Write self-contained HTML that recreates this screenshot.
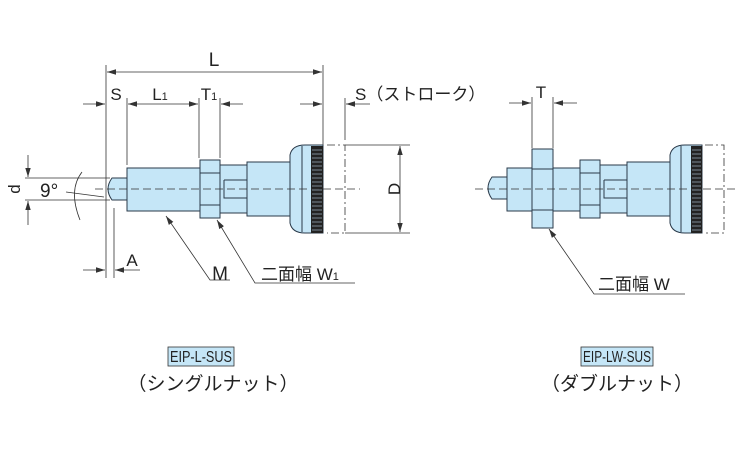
<!DOCTYPE html>
<html><head><meta charset="utf-8"><style>
body{margin:0;background:#fff}
svg{display:block}
text{font-family:"Liberation Sans","Noto Sans CJK JP",sans-serif;fill:#222;font-size:17px}
.b{font-size:19px}
.s{font-size:11px}
.m{font-size:16px}
</style></head><body>
<svg width="750" height="450" viewBox="0 0 750 450" xmlns="http://www.w3.org/2000/svg">
<defs>
<marker id="a" viewBox="0 0 10 10" refX="10" refY="5" markerWidth="9" markerHeight="9" markerUnits="userSpaceOnUse" orient="auto-start-reverse"><path d="M0,2 L10,5 L0,8 z" fill="#333"/></marker>
</defs>
<g stroke="#333" stroke-width="0.8" fill="none">
<line x1="106" y1="65" x2="106" y2="278"/>
<line x1="323" y1="65" x2="323" y2="145"/>
<line x1="107" y1="72" x2="322" y2="72" marker-start="url(#a)" marker-end="url(#a)"/>
<line x1="83" y1="104" x2="105" y2="104" marker-end="url(#a)"/>
<line x1="127" y1="98" x2="127" y2="165"/>
<line x1="128" y1="104" x2="198" y2="104" marker-start="url(#a)" marker-end="url(#a)"/>
<line x1="199" y1="98" x2="199" y2="158"/>
<line x1="220" y1="98" x2="220" y2="158"/>
<line x1="243" y1="104" x2="221" y2="104" marker-end="url(#a)"/>
<line x1="300" y1="104" x2="322" y2="104" marker-end="url(#a)"/>
<line x1="345" y1="98" x2="345" y2="140"/>
<line x1="370" y1="104" x2="346" y2="104" marker-end="url(#a)"/>
<line x1="345" y1="145" x2="410" y2="145"/>
<line x1="345" y1="233" x2="410" y2="233"/>
<line x1="400" y1="146" x2="400" y2="232" marker-start="url(#a)" marker-end="url(#a)"/>
<line x1="25" y1="178" x2="110" y2="178"/>
<line x1="25" y1="200" x2="110" y2="200"/>
<line x1="28" y1="155" x2="28" y2="177" marker-end="url(#a)"/>
<line x1="28" y1="225" x2="28" y2="201" marker-end="url(#a)"/>
<path d="M82,172 Q68,190 80,220"/>
<line x1="66" y1="192" x2="104" y2="197"/>
<line x1="114" y1="208" x2="114" y2="278"/>
<line x1="83" y1="270" x2="105" y2="270" marker-end="url(#a)"/>
<line x1="140" y1="270" x2="115" y2="270" marker-end="url(#a)"/>
<polyline points="230,280 210,280 166,216" marker-end="url(#a)"/>
<polyline points="355,283 255,283 217,220" marker-end="url(#a)"/>
<line x1="509" y1="103" x2="531" y2="103" marker-end="url(#a)"/>
<line x1="532" y1="97" x2="532" y2="148"/>
<line x1="553" y1="97" x2="553" y2="148"/>
<line x1="577" y1="103" x2="554" y2="103" marker-end="url(#a)"/>
<polyline points="685,294 594,294 549,229" marker-end="url(#a)"/>
</g>
<g stroke="#2a3a4a" stroke-width="1" fill="#c5e6f7">
<path d="M127,178 L112,178 Q104,189 112,200 L127,200 z"/>
<rect x="127" y="168" width="73" height="43"/>
<rect x="220" y="165" width="27" height="48"/>
<rect x="247" y="162" width="43" height="54"/>
<path d="M290,155 Q292,145 305,145 L323,145 L323,233 L305,233 Q292,233 290,223 z"/>
<rect x="200" y="160" width="20" height="58"/>
<line x1="200" y1="173" x2="220" y2="173"/>
<line x1="200" y1="205" x2="220" y2="205"/>
<path d="M224,180 L247,180 M224,180 L224,198 L247,198" fill="none"/>
<line x1="302" y1="146" x2="302" y2="232"/>
</g>
<rect x="311" y="146" width="12" height="87" fill="#222"/>
<g stroke="#9ab" stroke-width="0.7">
<path d="M312,150H322M312,154H322M312,158H322M312,162H322M312,166H322M312,170H322M312,174H322M312,178H322M312,182H322M312,186H322M312,190H322M312,194H322M312,198H322M312,202H322M312,206H322M312,210H322M312,214H322M312,218H322M312,222H322M312,226H322M312,230H322"/>
</g>
<path d="M327,145 H345 V233 H327" fill="none" stroke="#333" stroke-width="0.8" stroke-dasharray="8,3,2,3"/>
<line x1="95" y1="189" x2="360" y2="189" stroke="#333" stroke-width="0.7" stroke-dasharray="8,4"/>
<g stroke="#2a3a4a" stroke-width="1" fill="#c5e6f7">
<path d="M507,177 L492,177 Q484,188 492,199 L507,199 z"/>
<rect x="507" y="168" width="73" height="43"/>
<rect x="600" y="165" width="27" height="48"/>
<rect x="627" y="162" width="43" height="54"/>
<path d="M670,155 Q672,145 685,145 L702,145 L702,233 L685,233 Q672,233 670,223 z"/>
<rect x="580" y="160" width="20" height="58"/>
<line x1="580" y1="173" x2="600" y2="173"/>
<line x1="580" y1="205" x2="600" y2="205"/>
<rect x="532" y="149" width="21" height="79"/>
<line x1="532" y1="169" x2="553" y2="169"/>
<line x1="532" y1="210" x2="553" y2="210"/>
<path d="M604,180 L627,180 M604,180 L604,198 L627,198" fill="none"/>
<line x1="681" y1="146" x2="681" y2="232"/>
</g>
<rect x="691" y="146" width="11" height="87" fill="#222"/>
<g stroke="#9ab" stroke-width="0.7">
<path d="M692,150H701M692,154H701M692,158H701M692,162H701M692,166H701M692,170H701M692,174H701M692,178H701M692,182H701M692,186H701M692,190H701M692,194H701M692,198H701M692,202H701M692,206H701M692,210H701M692,214H701M692,218H701M692,222H701M692,226H701M692,230H701"/>
</g>
<path d="M705,145 H724 V233 H705" fill="none" stroke="#333" stroke-width="0.8" stroke-dasharray="8,3,2,3"/>
<line x1="475" y1="189" x2="738" y2="189" stroke="#333" stroke-width="0.7" stroke-dasharray="8,4"/>
<text x="214" y="66" text-anchor="middle" class="b">L</text>
<text x="116" y="100" text-anchor="middle">S</text>
<text x="160" y="100" text-anchor="middle">L<tspan class="s">1</tspan></text>
<text x="209" y="100" text-anchor="middle">T<tspan class="s">1</tspan></text>
<text x="355" y="100">S（ストローク）</text>
<text x="541" y="98" text-anchor="middle">T</text>
<text x="394" y="189" text-anchor="middle" transform="rotate(-90 394 189)" dy="6">D</text>
<text x="14" y="189" text-anchor="middle" transform="rotate(-90 14 189)" dy="6">d</text>
<text x="40" y="197" class="b">9°</text>
<text x="132" y="266" text-anchor="middle">A</text>
<text x="220" y="280" text-anchor="middle" class="b">M</text>
<text x="261" y="280">二面幅 W<tspan class="s">1</tspan></text>
<text x="598" y="290">二面幅 W</text>
<rect x="168" y="347" width="66" height="19" fill="#c5e6f7" stroke="#333" stroke-width="0.8"/>
<text x="170" y="362" class="m" textLength="62" lengthAdjust="spacingAndGlyphs">EIP-L-SUS</text>
<text x="213" y="390" text-anchor="middle" class="b">（シングルナット）</text>
<rect x="581" y="347" width="72" height="19" fill="#c5e6f7" stroke="#333" stroke-width="0.8"/>
<text x="583" y="362" class="m" textLength="68" lengthAdjust="spacingAndGlyphs">EIP-LW-SUS</text>
<text x="617" y="390" text-anchor="middle" class="b">（ダブルナット）</text>
</svg>
</body></html>
